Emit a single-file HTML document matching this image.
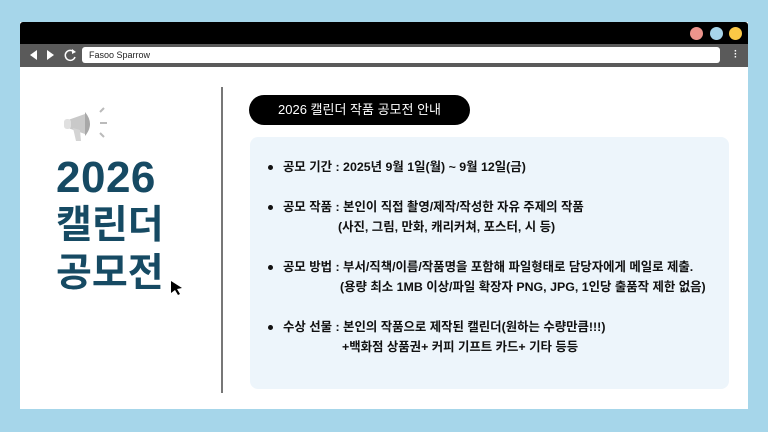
<!DOCTYPE html>
<html><head><meta charset="utf-8"><style>
*{margin:0;padding:0;box-sizing:border-box}
body{width:768px;height:432px;background:#a6d6ea;position:relative;overflow:hidden;font-family:"Liberation Sans","Noto Sans CJK KR",sans-serif}
.a{position:absolute}
.dot{position:absolute;width:13px;height:13px;border-radius:50%;top:27px}
.t{position:absolute;left:283px;font-size:12.4px;font-weight:600;color:#111;white-space:nowrap;line-height:16px}
.b{position:absolute;left:268px;width:5px;height:5px;border-radius:50%;background:#111}
.h{position:absolute;left:56px;font-size:39px;font-weight:700;color:#164a63;line-height:48px;white-space:nowrap}
</style></head><body>
<div class="a" style="left:20px;top:22px;width:728px;height:387px;background:#fff"></div>
<div class="a" style="left:20px;top:22px;width:728px;height:22px;background:#000;border-radius:3px 3px 0 0"></div>
<div class="dot" style="left:690px;background:#ec948c"></div>
<div class="dot" style="left:710px;background:#a7d5ea"></div>
<div class="dot" style="left:729px;background:#fbc846"></div>
<div class="a" style="left:20px;top:44px;width:728px;height:23px;background:#5a5a5a"></div>
<svg class="a" style="left:28px;top:48px" width="50" height="14"><polygon points="2,7 9,2 9,12" fill="#fff"/><polygon points="26,7 19,2 19,12" fill="#fff"/><path d="M46 4 A5 5 0 1 0 47 9" stroke="#fff" stroke-width="1.5" fill="none"/><polygon points="44,1 48,4 44,6" fill="#fff"/></svg>
<div class="a" style="left:82px;top:47px;width:638px;height:16px;background:#fff;border-radius:3px;font-size:9px;line-height:16px;padding-left:7px;color:#222">Fasoo Sparrow</div>
<div class="a" style="left:734px;top:50px;color:#fff;font-size:10px;line-height:3px;font-weight:700">·<br>·<br>·</div>
<svg class="a" style="left:60px;top:104px" width="52" height="40"><path d="M8 16 L25 10 L25 30 L8 24 Z" fill="#c9c9c9"/><rect x="4" y="15" width="7" height="10" rx="3" fill="#e0e0e0"/><path d="M25 8 Q35 20 25 32 Z" fill="#a8a8a8"/><path d="M13 24 L20 26 L21 37 L16 37 Z" fill="#d4d4d4"/><line x1="40" y1="8" x2="44" y2="4" stroke="#bbb" stroke-width="2"/><line x1="40" y1="19" x2="47" y2="19" stroke="#bbb" stroke-width="2"/><line x1="40" y1="29" x2="44" y2="33" stroke="#bbb" stroke-width="2"/></svg>
<div class="h" style="top:154px;font-size:44px;letter-spacing:0.5px">2026</div>
<div class="h" style="top:202px">캘린더</div>
<div class="h" style="top:250px">공모전</div>
<svg class="a" style="left:170px;top:280px" width="14" height="16"><polygon points="1,1 12,8 7,9 10,14 8,15 5,10 1,13" fill="#000"/></svg>
<div class="a" style="left:221px;top:87px;width:2px;height:306px;background:#777"></div>
<div class="a" style="left:249px;top:95px;width:221px;height:30px;background:#000;border-radius:15px;color:#fff;font-size:13px;line-height:30px;text-align:center">2026 캘린더 작품 공모전 안내</div>
<div class="a" style="left:250px;top:137px;width:479px;height:252px;background:#edf5fb;border-radius:8px"></div>
<div class="b" style="top:165px"></div><div class="t" style="top:159px">공모 기간 : 2025년 9월 1일(월) ~ 9월 12일(금)</div>
<div class="b" style="top:205px"></div><div class="t" style="top:199px">공모 작품 : 본인이 직접 촬영/제작/작성한 자유 주제의 작품</div>
<div class="t" style="top:219px;left:338px">(사진, 그림, 만화, 캐리커쳐, 포스터, 시 등)</div>
<div class="b" style="top:265px"></div><div class="t" style="top:259px">공모 방법 : 부서/직책/이름/작품명을 포함해 파일형태로 담당자에게 메일로 제출.</div>
<div class="t" style="top:279px;left:340px">(용량 최소 1MB 이상/파일 확장자 PNG, JPG, 1인당 출품작 제한 없음)</div>
<div class="b" style="top:325px"></div><div class="t" style="top:319px">수상 선물 : 본인의 작품으로 제작된 캘린더(원하는 수량만큼!!!)</div>
<div class="t" style="top:339px;left:342px">+백화점 상품권+ 커피 기프트 카드+ 기타 등등</div>
</body></html>
